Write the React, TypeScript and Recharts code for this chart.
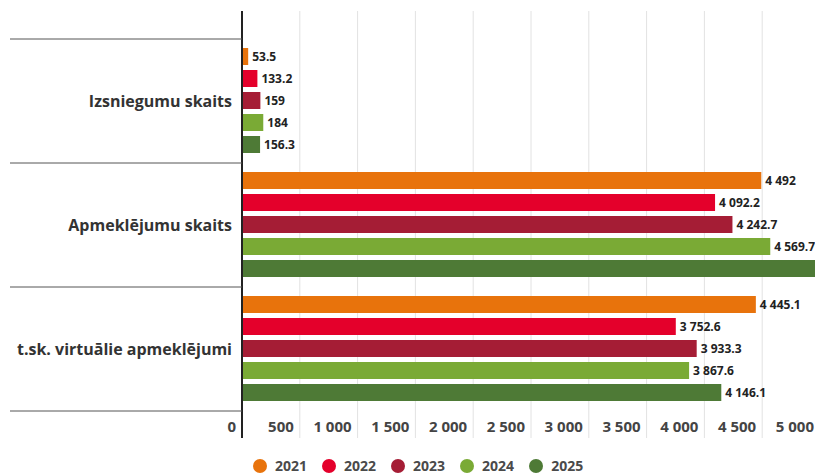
import React from 'react';
import { BarChart, Bar, XAxis, YAxis, CartesianGrid, Legend, LabelList } from 'recharts';

const categories = ['Izsniegumu skaits', 'Apmeklējumu skaits', 't.sk. virtuālie apmeklējumi'];
const years = ['2021', '2022', '2023', '2024', '2025'];
const v2021 = [53.5, 4492, 4445.1];
const v2022 = [133.2, 4092.2, 3752.6];
const v2023 = [159, 4242.7, 3933.3];
const v2024 = [184, 4569.7, 3867.6];
const v2025 = [156.3, 5100, 4146.1];
const xTicks = [0, 500, 1000, 1500, 2000, 2500, 3000, 3500, 4000, 4500, 5000];
const colors = ['#E8730C', '#E4002B', '#A51D35', '#7AAA35', '#4E7A36'];

const seriesValues = [v2021, v2022, v2023, v2024, v2025];
const data = categories.map((name, i) => {
  const row: Record<string, any> = { name };
  years.forEach((y, k) => {
    row[y] = seriesValues[k][i];
  });
  return row;
});

const fmt = (v: any) => {
  const s = String(v);
  const [i, d] = s.split('.');
  return i.replace(/\B(?=(\d{3})+(?!\d))/g, ' ') + (d ? '.' + d : '');
};

const FONT = '"Open Sans", "DejaVu Sans", sans-serif';

const XTick = (props: any) => {
  const { x, y, payload } = props;
  return (
    <text x={x - 6} y={y - 6} textAnchor="end" fontFamily={FONT} fontSize={15} fontWeight={700} fill="#444">
      {fmt(payload.value)}
    </text>
  );
};

const YTick = (props: any) => {
  const { x, y, payload, index } = props;
  const off = payload && typeof payload.offset === 'number' && payload.offset > 0 ? payload.offset : 62;
  const last = index === categories.length - 1;
  return (
    <g>
      <line x1={10} x2={x} y1={y - off} y2={y - off} stroke="#555" strokeWidth={1} />
      {last && <line x1={10} x2={x} y1={y + off} y2={y + off} stroke="#555" strokeWidth={1} />}
      <text x={x - 10} y={y} dy={6} textAnchor="end" fontFamily={FONT} fontSize={16} fontWeight={700} fill="#333">
        {payload.value}
      </text>
    </g>
  );
};

const LegendContent = () => (
  <div style={{ display: 'flex', alignItems: 'center', height: 16, fontFamily: FONT }}>
    {years.map((y, k) => (
      <div key={y} style={{ display: 'flex', alignItems: 'center', marginRight: 15 }}>
        <span style={{ width: 14, height: 14, borderRadius: 7, background: colors[k], display: 'inline-block', marginRight: 8 }} />
        <span style={{ fontSize: 14, fontWeight: 700, color: '#4a4a4a', lineHeight: '16px' }}>{y}</span>
      </div>
    ))}
  </div>
);

export default function App() {
  return (
    <div style={{ position: 'absolute', left: 0, top: 0, width: 815, height: 474, overflow: 'hidden', background: '#fff' }}>
      <BarChart
        width={830}
        height={474}
        data={data}
        layout="vertical"
        margin={{ top: 11, right: 10, bottom: 0, left: 0 }}
        barCategoryGap={9}
        barGap={5}
      >
        <CartesianGrid horizontal={false} vertical={true} stroke="#e2e2e2" />
        <XAxis
          type="number"
          domain={[0, 5000]}
          ticks={xTicks}
          allowDataOverflow
          interval={0}
          axisLine={false}
          tickLine={false}
          tickSize={0}
          tickMargin={0}
          height={20}
          tick={<XTick />}
        />
        <YAxis
          type="category"
          dataKey="name"
          width={242}
          interval={0}
          axisLine={{ stroke: '#222', strokeWidth: 2 }}
          tickLine={false}
          tickSize={0}
          tickMargin={0}
          padding={{ top: 28, bottom: 27 }}
          tick={<YTick />}
        />
        <Legend
          verticalAlign="bottom"
          content={<LegendContent />}
          wrapperStyle={{ left: 253, width: 360 }}
        />
        {years.map((y, k) => (
          <Bar key={y} dataKey={y} fill={colors[k]} isAnimationActive={false}>
            <LabelList
              dataKey={y}
              position="right"
              offset={4}
              formatter={fmt}
              style={{ fontFamily: FONT, fontSize: 12, fontWeight: 700, fill: '#222' }}
            />
          </Bar>
        ))}
      </BarChart>
    </div>
  );
}
